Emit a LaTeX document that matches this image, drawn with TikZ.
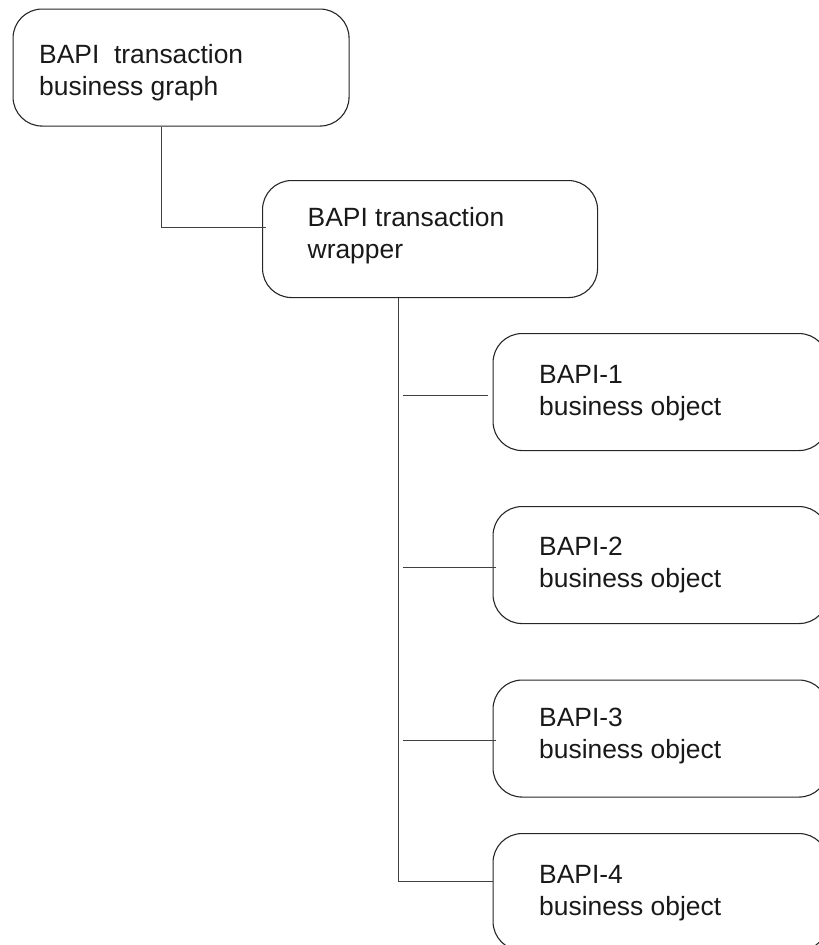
\documentclass[tikz,border=0pt]{standalone}
\usepackage{fontspec}
\setmainfont{Liberation Sans}
\usetikzlibrary{calc}
\begin{document}
\begin{tikzpicture}[x=1pt, y=-1pt,
  box/.style={draw=black!85, line width=1.1pt, rounded corners=29pt,
    minimum width=#1, minimum height=117pt, inner sep=0pt, anchor=north west},
  box/.default=335pt,
  label/.style={anchor=base west, inner sep=0pt, align=left,
    font=\fontsize{26.4}{32}\selectfont, text=black!90},
  wire/.style={draw=black!75, line width=1.1pt}]
  \useasboundingbox (0,0) rectangle (819,945);
  \clip (0,0) rectangle (819,945);

  % boxes
  \node[box=336pt] (graph) at (12.5,8.5) {};
  \node[box] (wrap) at (262,180) {};
  \node[box] (obj1) at (492.5,333) {};
  \node[box] (obj2) at (492.5,506) {};
  \node[box] (obj3) at (492.5,679.5) {};
  \node[box] (obj4) at (492.5,833) {};

  % texts (the base anchor sits on the second line)
  \node[label] (tgraph) at ($(graph.north west)+(26.5,87)$) {BAPI\ \ transaction\\business graph};
  \node[label] (twrap) at ($(wrap.north west)+(45.5,78)$) {BAPI transaction\\wrapper};
  \node[label] (tobj1) at ($(obj1.north west)+(46.5,82)$) {BAPI-1\\business object};
  \node[label] (tobj2) at ($(obj2.north west)+(46.5,81)$) {BAPI-2\\business object};
  \node[label] (tobj3) at ($(obj3.north west)+(46.5,79)$) {BAPI-3\\business object};
  \node[label] (tobj4) at ($(obj4.north west)+(46.5,82)$) {BAPI-4\\business object};

  % connectors
  \coordinate (g0) at ($(graph.south west)+(149,0)$);
  \coordinate (w0) at ($(wrap.north west)+(4,47.5)$);
  \draw[wire] (g0) |- (w0);

  \coordinate (t0) at ($(wrap.south west)+(136.5,0)$);
  \coordinate (t4) at ($(obj4.north west)+(0,48.5)$);
  \draw[wire] (t0) |- (t4);

  \draw[wire] ($(obj1.north west)+(-90,62.5)$) -- ($(obj1.north west)+(-5,62.5)$);
  \draw[wire] ($(obj2.north west)+(-90,61.5)$) -- ($(obj2.north west)+(3,61.5)$);
  \draw[wire] ($(obj3.north west)+(-90,61)$) -- ($(obj3.north west)+(3,61)$);
\end{tikzpicture}
\end{document}
